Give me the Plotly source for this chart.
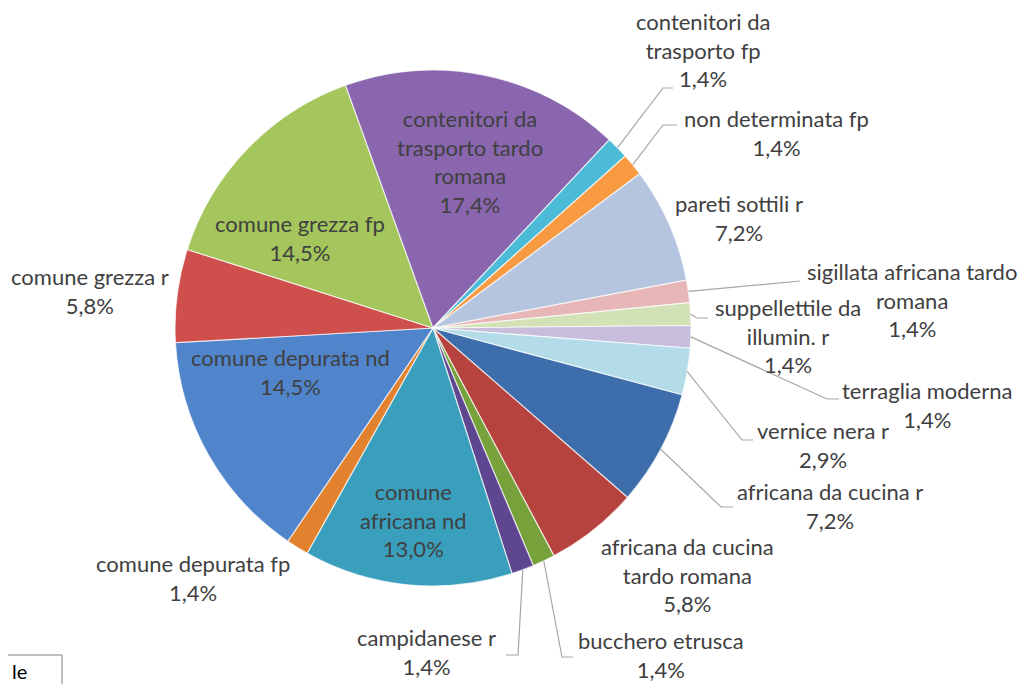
import math
import plotly.graph_objects as go

# ---------------- data ----------------
categories = [
    "africana da cucina r",
    "africana da cucina tardo romana",
    "bucchero etrusca",
    "campidanese r",
    "comune africana nd",
    "comune depurata fp",
    "comune depurata nd",
    "comune grezza r",
    "comune grezza fp",
    "contenitori da trasporto tardo romana",
    "contenitori da trasporto fp",
    "non determinata fp",
    "pareti sottili r",
    "sigillata africana tardo romana",
    "suppellettile da illumin. r",
    "terraglia moderna",
    "vernice nera r",
]
percent_values = [7.2, 5.8, 1.4, 1.4, 13.0, 1.4, 14.5, 5.8, 14.5, 17.4,
                  1.4, 1.4, 7.2, 1.4, 1.4, 1.4, 2.9]
label_lines = [
    ["africana da cucina r"],
    ["africana da cucina", "tardo romana"],
    ["bucchero etrusca"],
    ["campidanese r"],
    ["comune", "africana nd"],
    ["comune depurata fp"],
    ["comune depurata nd"],
    ["comune grezza r"],
    ["comune grezza fp"],
    ["contenitori da", "trasporto tardo", "romana"],
    ["contenitori da", "trasporto fp"],
    ["non determinata fp"],
    ["pareti sottili r"],
    ["sigillata africana tardo", "romana"],
    ["suppellettile da", "illumin. r"],
    ["terraglia moderna"],
    ["vernice nera r"],
]

# ---------------- styling / layout ----------------
W, H = 1030, 684
OFF = 8                            # page body margin compensation
colors = ["#3D6DAA", "#B7433F", "#77A23B", "#5F4690", "#3A9FBC", "#E2822F",
          "#5085CC", "#CF4F4C", "#A4C65C", "#8966AE", "#4BBBD7", "#F79A42",
          "#B5C5E0", "#E7B7B8", "#D2E2B6", "#C8BEDB", "#B3DCE8"]
CX, CY, R = 433, 328, 258          # pie centre / radius in pixels
ROTATION = 105                     # start angle of the first slice
TEXT_COLOR = "#404040"
FONT = "Lato"
FS = 22
LINE_COLOR = "#A6A6A6"

# label block centres (pixels)
label_pos = [
    (830, 506), (687, 575), (661, 655), (426, 652), (413, 520), (193, 578),
    (290, 372), (90, 291), (300, 238), (470, 162), (703, 50), (776, 133),
    (739, 218), (912, 300), (788, 336), (927, 405), (823, 445),
]
# leader line points after the slice edge (pixels); None = no leader
leaders = [
    [(721, 507), (733, 507)], None, [(562, 657), (573, 657)],
    [(518, 655), (506, 655)], None, None, None, None, None, None,
    [(663, 88), (673, 88)], [(663, 125), (677, 125)], None,
    [(800, 281)], [(697, 318), (708, 318)], [(827, 399), (839, 399)],
    [(742, 440), (753, 440)],
]


def px(x):
    return (x - OFF) / W


def py(y):
    return 1 - (y - OFF) / H


fig = go.Figure()
fig.add_trace(go.Pie(
    labels=categories,
    values=percent_values,
    sort=False,
    direction="clockwise",
    rotation=ROTATION,
    marker=dict(colors=colors, line=dict(color="rgba(255,255,255,0.7)", width=1.2)),
    textinfo="none",
    hoverinfo="label+percent",
    showlegend=False,
    domain=dict(x=[px(CX - R), px(CX + R)], y=[py(CY + R), py(CY - R)]),
))

total = sum(percent_values)
shapes = []
annotations = []
cum = 0.0
for i, v in enumerate(percent_values):
    mid = math.radians(ROTATION + 360.0 * (cum + v / 2) / total)
    cum += v
    pct = f"{v:.1f}".replace(".", ",") + "%"
    text = "<br>".join(label_lines[i] + [pct])
    lx, ly = label_pos[i]
    annotations.append(dict(
        x=px(lx), y=py(ly), xref="paper", yref="paper",
        text=text, showarrow=False, align="center",
        xanchor="center", yanchor="middle",
        font=dict(family=FONT, size=FS, color=TEXT_COLOR),
    ))
    if leaders[i]:
        sx = CX + R * math.sin(mid)
        sy = CY - R * math.cos(mid)
        pts = [(sx, sy)] + leaders[i]
        path = "M " + " L ".join(f"{px(a):.5f},{py(b):.5f}" for a, b in pts)
        shapes.append(dict(type="path", path=path, xref="paper", yref="paper",
                           line=dict(color=LINE_COLOR, width=1.2)))

# stray cell fragment at bottom-left
shapes.append(dict(type="rect", xref="paper", yref="paper",
                   x0=px(-2), x1=px(62), y0=py(700), y1=py(655),
                   line=dict(color="#7F7F7F", width=1), fillcolor="rgba(0,0,0,0)"))
annotations.append(dict(x=px(10), y=py(671), xref="paper", yref="paper",
                        text="le", showarrow=False, xanchor="left", yanchor="middle",
                        font=dict(family="Lato", size=20, color="#000000")))

fig.update_layout(
    width=W, height=H,
    margin=dict(l=0, r=0, t=0, b=0),
    paper_bgcolor="white", plot_bgcolor="white",
    shapes=shapes, annotations=annotations,
)
fig.write_html("out.html")
